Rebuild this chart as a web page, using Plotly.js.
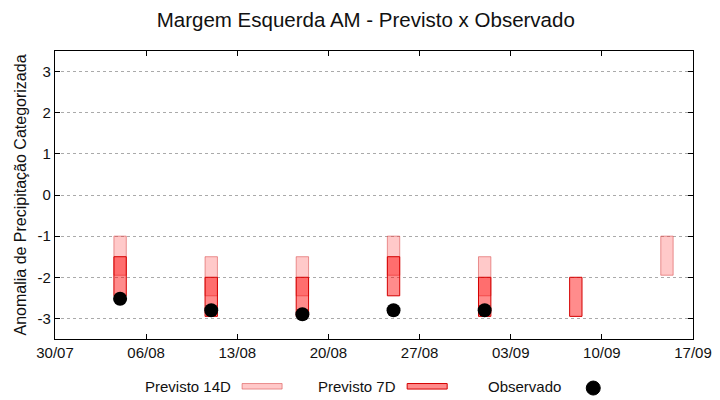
<!DOCTYPE html>
<html>
<head>
<meta charset="utf-8">
<script src="https://cdn.plot.ly/plotly-3.0.1.min.js"></script>
<style>
  html, body { margin: 0; padding: 0; background: #fff; }
  #grafico { width: 720px; height: 400px; }
</style>
</head>
<body>
<div id="grafico"></div>
<script>
// semanas previstas
var datas = ['2023-08-04', '2023-08-11', '2023-08-18', '2023-08-25', '2023-09-01', '2023-09-08', '2023-09-15'];

// Previsto 14D (topo e base de cada faixa)
var prev14Topo = [-1.0, -1.5, -1.5, -1.0, -1.5, null, -1.0];
var prev14Base = [-1.95, -2.45, -2.45, -1.95, -2.45, null, -1.95];

// Previsto 7D
var prev7Topo = [-1.5, -2.0, -2.0, -1.5, -2.0, -2.0, null];
var prev7Base = [-2.45, -2.95, -2.95, -2.45, -2.95, -2.95, null];

// Observado
var obsDatas = ['2023-08-04', '2023-08-11', '2023-08-18', '2023-08-25', '2023-09-01'];
var obsValores = [-2.52, -2.8, -2.9, -2.8, -2.8];

var tickVals = [-3, -2, -1, 0, 1, 2, 3];

function alturas(topo, base) {
    return topo.map(function (t, i) { return t === null ? null : base[i] - t; });
}

var dia = 86400000;

var trace14 = {
    type: 'bar',
    name: 'Previsto 14D',
    x: datas,
    base: prev14Topo,
    y: alturas(prev14Topo, prev14Base),
    width: 0.95 * dia,
    marker: {color: 'rgba(255,100,100,0.35)', line: {color: 'rgba(215,70,70,0.55)', width: 1}},
    showlegend: false,
    hoverinfo: 'skip'
};

var trace7 = {
    type: 'bar',
    name: 'Previsto 7D',
    x: datas,
    base: prev7Topo,
    y: alturas(prev7Topo, prev7Base),
    width: 0.95 * dia,
    marker: {color: 'rgba(255,0,0,0.45)', line: {color: '#d40000', width: 1}},
    showlegend: false,
    hoverinfo: 'skip'
};

var traceObs = {
    type: 'scatter',
    mode: 'markers',
    name: 'Observado',
    x: obsDatas,
    y: obsValores,
    marker: {color: '#000', size: 14, symbol: 'circle'},
    showlegend: false
};

// conversao pixel -> paper para a legenda no estilo gnuplot
var L = 55, R = 692.7, T = 51.3, B = 339;
function px(x) { return (x - L) / (R - L); }
function py(y) { return (B - y) / (B - T); }

var familia = 'Liberation Sans, Arial, sans-serif';
var fonte = {family: familia, size: 15, color: '#111'};

var legenda = [
    {text: 'Previsto 14D', x: 233, sym: 'rect', x0: 242, x1: 282, fill: 'rgba(255,100,100,0.35)', line: 'rgba(215,70,70,0.55)'},
    {text: 'Previsto 7D', x: 398, sym: 'rect', x0: 407, x1: 447, fill: 'rgba(255,0,0,0.45)', line: '#d40000'},
    {text: 'Observado', x: 563, sym: 'dot', x0: 586, x1: 600, fill: '#000', line: '#000'}
];

var annotations = legenda.map(function (item) {
    return {
        text: item.text, xref: 'paper', yref: 'paper',
        x: px(item.x), y: py(386), xanchor: 'right', yanchor: 'middle',
        showarrow: false, font: fonte
    };
});

var shapes = legenda.map(function (item) {
    if (item.sym === 'rect') {
        return {type: 'rect', xref: 'paper', yref: 'paper',
            x0: px(item.x0), x1: px(item.x1), y0: py(389), y1: py(383.5),
            fillcolor: item.fill, line: {color: item.line, width: 1}};
    }
    return {type: 'circle', xref: 'paper', yref: 'paper',
        x0: px(item.x0), x1: px(item.x1), y0: py(395), y1: py(381),
        fillcolor: item.fill, line: {color: item.line, width: 1}};
});

var layout = {
    width: 720,
    height: 400,
    margin: {l: 55, r: 27.3, t: 51.3, b: 61, pad: 0},
    paper_bgcolor: '#fff',
    plot_bgcolor: '#fff',
    barmode: 'overlay',
    showlegend: false,
    font: fonte,
    title: {
        text: 'Margem Esquerda AM - Previsto x Observado',
        font: {family: familia, size: 20.5, color: '#111'},
        x: 0.508, xanchor: 'center', y: 0.95, yanchor: 'middle'
    },
    xaxis: {
        type: 'date',
        range: ['2023-07-30', '2023-09-17'],
        tick0: '2023-07-30',
        dtick: 7 * dia,
        tickformat: '%d/%m',
        ticks: 'inside',
        ticklen: 5,
        tickcolor: '#000',
        showline: true,
        linecolor: '#000',
        linewidth: 1.2,
        mirror: 'ticks',
        showgrid: false,
        zeroline: false,
        tickfont: fonte
    },
    yaxis: {
        range: [-3.5, 3.5],
        tickvals: tickVals,
        ticktext: tickVals.map(String),
        ticks: 'inside',
        ticklen: 5,
        tickcolor: '#000',
        showline: true,
        linecolor: '#000',
        linewidth: 1.2,
        mirror: 'ticks',
        showgrid: true,
        gridcolor: '#aaa',
        griddash: 'dot',
        gridwidth: 1,
        zeroline: false,
        tickfont: fonte,
        title: {text: 'Anomalia de Precipitação Categorizada', font: {family: familia, size: 16, color: '#111'}, standoff: 6}
    },
    annotations: annotations,
    shapes: shapes
};

Plotly.newPlot('grafico', [trace14, trace7, traceObs], layout, {staticPlot: true});
</script>
</body>
</html>
